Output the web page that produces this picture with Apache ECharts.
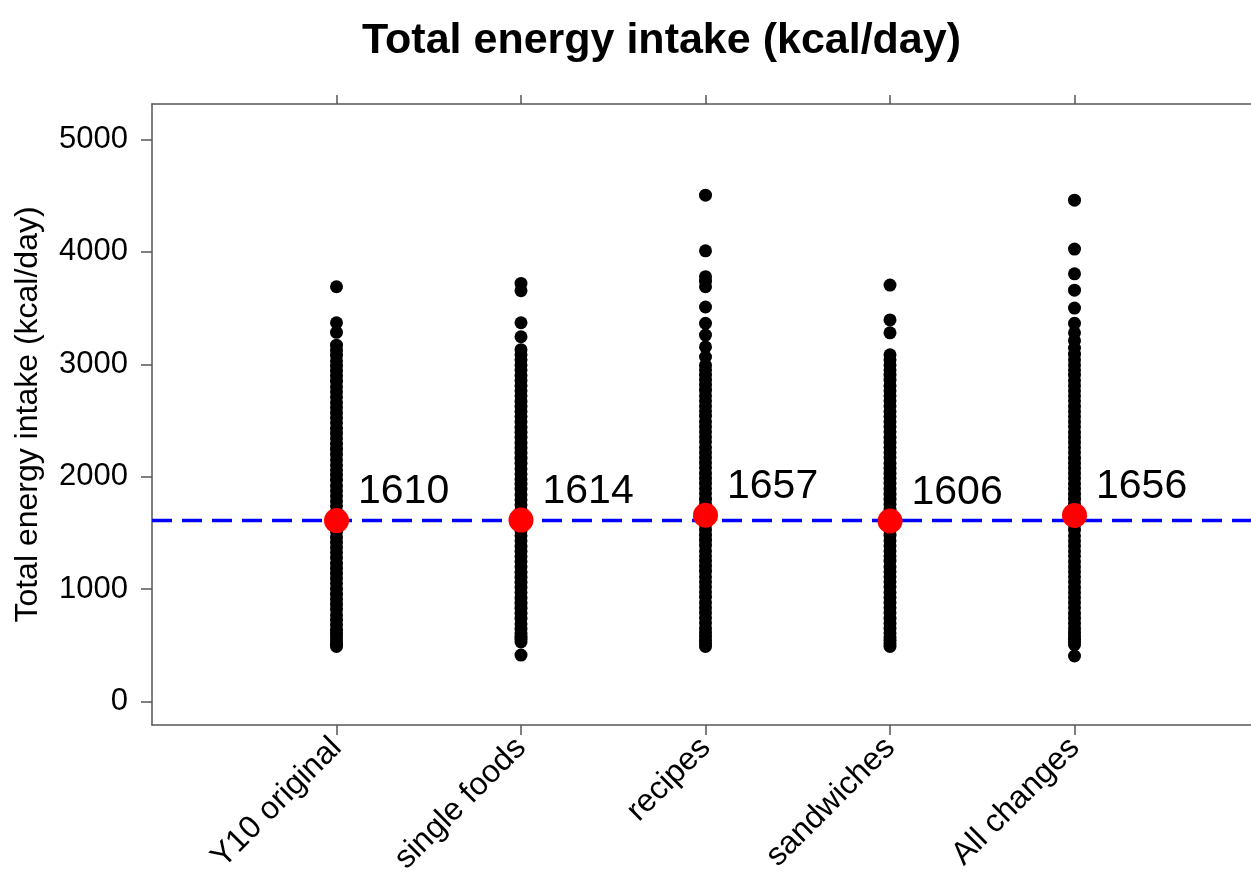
<!DOCTYPE html>
<html lang="en">
<head>
    <meta charset="UTF-8">
    <title>Total energy intake</title>
    <script src="https://cdn.jsdelivr.net/npm/echarts@6/dist/echarts.min.js"></script>
    <style>
        html, body{
            margin: 0;
            padding: 0;
            background: #fff;
        }
        #chart{
            width: 1251px;
            height: 872px;
        }
    </style>
</head>
<body>
    <div id="chart"></div>
    <script>
        // categories along the x axis (positions 1..5)
        const categories = ['Y10 original', 'single foods', 'recipes', 'sandwiches', 'All changes']
        const positions = [1, 2, 3, 4, 5]

        // individual intakes (kcal/day)
        const y10Original = [3690, 3370, 3285,
            3170, 3125, 3080, 3030, 2985, 2940, 2895, 2850, 2800, 2755, 2710, 2660, 2615, 2570, 2525, 2480,
            2430, 2385, 2340, 2290, 2245, 2200, 2150, 2105, 2060, 2015, 1970, 1920, 1875, 1830, 1785, 1740,
            1690, 1645, 1600, 1555, 1510, 1460, 1415, 1370, 1325, 1280, 1230, 1185, 1140, 1095, 1050, 1000,
            955, 910, 865, 820, 770, 725, 680, 635, 600, 570, 540, 510, 490]
        const singleFoods = [3720, 3655, 3370, 3245,
            3130, 3085, 3040, 2995, 2950, 2900, 2855, 2810, 2765, 2720, 2670, 2625, 2580, 2535, 2490, 2440,
            2395, 2350, 2300, 2255, 2210, 2165, 2120, 2070, 2025, 1980, 1935, 1890, 1840, 1795, 1750, 1705,
            1660, 1610, 1565, 1520, 1475, 1430, 1380, 1335, 1290, 1245, 1200, 1150, 1105, 1060, 1015, 970,
            920, 875, 830, 785, 740, 690, 645, 610, 580, 555, 530, 413]
        const recipes = [4505, 4010, 3780, 3740, 3690, 3510, 3365, 3260, 3155, 3065,
            2990, 2950, 2905, 2860, 2815, 2770, 2720, 2675, 2630, 2585, 2540, 2490, 2445, 2400, 2355, 2310,
            2260, 2215, 2170, 2125, 2080, 2030, 1985, 1940, 1895, 1850, 1800, 1755, 1710, 1665, 1620, 1570,
            1525, 1480, 1435, 1390, 1340, 1295, 1250, 1205, 1160, 1110, 1065, 1020, 975, 930, 880, 835, 790,
            745, 700, 655, 615, 580, 545, 515, 490]
        const sandwiches = [3705, 3395, 3280,
            3085, 3040, 2995, 2950, 2905, 2860, 2810, 2765, 2720, 2675, 2630, 2580, 2535, 2490, 2445, 2400,
            2350, 2305, 2260, 2215, 2170, 2120, 2075, 2030, 1985, 1940, 1890, 1845, 1800, 1755, 1710, 1660,
            1615, 1570, 1525, 1480, 1430, 1385, 1340, 1295, 1250, 1200, 1155, 1110, 1065, 1020, 970, 925,
            880, 835, 790, 740, 695, 650, 610, 575, 545, 515, 490]
        const allChanges = [4460, 4025, 3805, 3660, 3500, 3365, 3280, 3210, 3145, 3090,
            3040, 2995, 2950, 2905, 2855, 2810, 2765, 2720, 2675, 2625, 2580, 2535, 2490, 2445, 2395, 2350,
            2305, 2260, 2215, 2165, 2120, 2075, 2030, 1985, 1935, 1890, 1845, 1800, 1755, 1705, 1660, 1615,
            1570, 1525, 1475, 1430, 1385, 1340, 1295, 1245, 1200, 1155, 1110, 1065, 1015, 970, 925, 880,
            835, 785, 740, 695, 650, 615, 585, 555, 530, 505, 405]
        const columns = [y10Original, singleFoods, recipes, sandwiches, allChanges]

        // group means (red dots)
        const means = [1610, 1614, 1657, 1606, 1656]
        // reference line = Y10 original mean
        const refLine = 1610

        // y axis ticks
        const yTicks = [0, 1000, 2000, 3000, 4000, 5000]

        const font = 'Arial, "Liberation Sans", sans-serif'
        const axisColor = '#555'

        // every individual as an [x, y] pair
        let pointData = []
        columns.forEach((col, i) => {
            col.forEach(v => pointData.push([positions[i], v]))
        })

        let myChart = echarts.init(document.getElementById('chart'), null, {renderer: 'canvas'})
        let option = {
            animation: false,
            backgroundColor: '#fff',
            title: {
                text: 'Total energy intake (kcal/day)',
                left: 357,
                top: 15,
                textStyle: {
                    fontFamily: font,
                    fontSize: 43,
                    fontWeight: 'bold',
                    color: '#000'
                }
            },
            grid: {
                left: 152,
                top: 104,
                right: -8,
                bottom: 147,
                containLabel: false,
                outerBoundsMode: 'none'
            },
            xAxis: [{
                type: 'value',
                position: 'bottom',
                min: 0,
                max: 6,
                splitLine: {show: false},
                axisLine: {show: true, onZero: false, lineStyle: {color: axisColor, width: 1.5}},
                axisTick: {show: true, length: 10, customValues: positions, lineStyle: {color: axisColor, width: 1.5}},
                axisLabel: {
                    customValues: positions,
                    rotate: 45,
                    margin: 18,
                    fontFamily: font,
                    fontSize: 32,
                    color: '#000',
                    formatter: v => categories[v - 1] || ''
                }
            }, {
                type: 'value',
                position: 'top',
                min: 0,
                max: 6,
                splitLine: {show: false},
                axisLine: {show: true, onZero: false, lineStyle: {color: axisColor, width: 1.5}},
                axisTick: {show: true, length: 9, customValues: positions, lineStyle: {color: axisColor, width: 1.5}},
                axisLabel: {show: false}
            }],
            yAxis: {
                type: 'value',
                min: -209,
                max: 5316,
                name: 'Total energy intake (kcal/day)',
                nameLocation: 'middle',
                nameGap: 108,
                nameTextStyle: {
                    fontFamily: font,
                    fontSize: 32,
                    color: '#000'
                },
                splitLine: {show: false},
                axisLine: {show: true, onZero: false, lineStyle: {color: axisColor, width: 1.5}},
                axisTick: {show: true, length: 11, customValues: yTicks, lineStyle: {color: axisColor, width: 1.5}},
                axisLabel: {
                    customValues: yTicks,
                    margin: 24,
                    fontFamily: font,
                    fontSize: 31,
                    color: '#000',
                    formatter: v => String(v)
                }
            },
            series: [{
                // individual intakes
                type: 'scatter',
                data: pointData,
                symbolSize: 13,
                itemStyle: {color: '#000', opacity: 1},
                z: 2
            }, {
                // reference line
                type: 'line',
                data: [[0, refLine], [6, refLine]],
                symbol: 'none',
                lineStyle: {color: '#0000ff', width: 3.5, type: [20, 10]},
                z: 3
            }, {
                // means
                type: 'scatter',
                data: means.map((m, i) => [positions[i], m]),
                symbolSize: 25,
                itemStyle: {color: '#ff0000', opacity: 1},
                label: {
                    show: true,
                    position: [34, -16],
                    align: 'left',
                    verticalAlign: 'middle',
                    fontFamily: font,
                    fontSize: 41,
                    color: '#000',
                    formatter: p => p.value[1]
                },
                z: 4
            }]
        }
        myChart.setOption(option)
    </script>
</body>
</html>
